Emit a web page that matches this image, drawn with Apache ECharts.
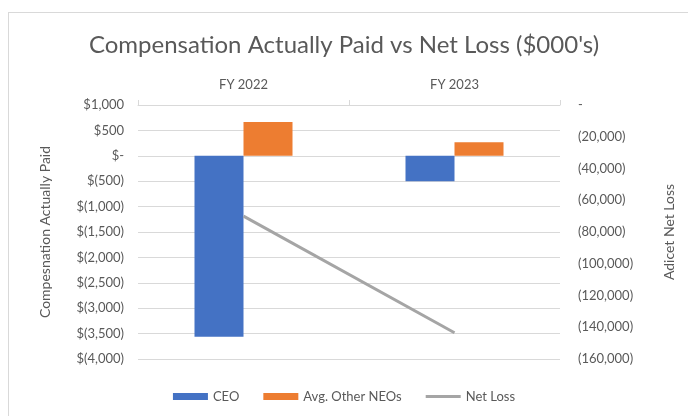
<!DOCTYPE html>
<html>
<head>
<meta charset="utf-8">
<script src="https://cdn.jsdelivr.net/npm/echarts@6/dist/echarts.min.js"></script>
<style>
    html, body { margin: 0; padding: 0; background: #fff; }
    #frame { position: absolute; left: 8px; top: 12px; width: 700px; height: 420px; border-left: 1px solid #d9d9d9; border-top: 1px solid #d9d9d9; }
    #main { position: absolute; left: 0; top: 0; width: 688px; height: 416px; }
</style>
</head>
<body>
<div id="frame"></div>
<div id="main"></div>
<script>
var years = ['FY 2022', 'FY 2023'];
var ceoData = [-3560, -500];
var neoData = [665, 265];
var netLossData = [-70000, -143500];

var leftTicks = { min: -4000, max: 1000, interval: 500 };
var rightTicks = { min: -160000, max: 0, interval: 20000 };

function fmtNum(v) {
    return Math.abs(v).toLocaleString('en-US');
}
function fmtLeft(v) {
    if (v === 0) return '$-';
    if (v < 0) return '$(' + fmtNum(v) + ')';
    return '$' + fmtNum(v);
}
function fmtRight(v) {
    if (v === 0) return '-';
    return '(' + fmtNum(v) + ')';
}

var font = 'Lato, "Open Sans", sans-serif';
var txt = '#595959';
var gridColor = '#d9d9d9';

var chart = echarts.init(document.getElementById('main'), null, { width: 688, height: 416 });
var option = {
    backgroundColor: 'transparent',
    animation: false,
    textStyle: { fontFamily: font },
    title: {
        text: "Compensation Actually Paid vs Net Loss ($000's)",
        left: 'center',
        top: 28,
        textStyle: { fontFamily: font, fontSize: 24, fontWeight: 'normal', color: txt }
    },
    legend: {
        bottom: 8,
        left: 'center',
        itemWidth: 35,
        itemHeight: 7,
        itemGap: 24,
        textStyle: { fontFamily: font, fontSize: 13, color: txt },
        data: [
            { name: 'CEO', icon: 'rect' },
            { name: 'Avg. Other NEOs', icon: 'rect' },
            { name: 'Net Loss', icon: 'path://M0,0H35V3H0Z' }
        ]
    },
    grid: { left: 138, right: 128, top: 105, bottom: 57 },
    xAxis: {
        type: 'category',
        position: 'top',
        data: years,
        axisLine: { onZero: false, lineStyle: { color: gridColor } },
        axisTick: { show: true, length: 5, lineStyle: { color: gridColor } },
        axisLabel: { color: txt, fontSize: 13, margin: 14, fontFamily: font },
        splitLine: { show: false }
    },
    yAxis: [
        {
            type: 'value',
            min: leftTicks.min,
            max: leftTicks.max,
            interval: leftTicks.interval,
            name: 'Compesnation Actually Paid',
            nameLocation: 'middle',
            nameRotate: 90,
            nameGap: 86,
            nameTextStyle: { color: txt, fontSize: 14, fontFamily: font },
            axisLine: { show: false },
            axisTick: { show: false },
            axisLabel: { color: txt, fontSize: 13, margin: 14, formatter: fmtLeft, fontFamily: font },
            splitLine: { lineStyle: { color: gridColor } }
        },
        {
            type: 'value',
            position: 'right',
            min: rightTicks.min,
            max: rightTicks.max,
            interval: rightTicks.interval,
            name: 'Adicet Net Loss',
            nameLocation: 'middle',
            nameRotate: 90,
            nameGap: 102,
            nameTextStyle: { color: txt, fontSize: 14, fontFamily: font },
            axisLine: { show: false },
            axisTick: { show: false },
            axisLabel: { color: txt, fontSize: 13, margin: 18, formatter: fmtRight, fontFamily: font },
            splitLine: { show: false }
        }
    ],
    series: [
        {
            name: 'CEO',
            type: 'bar',
            yAxisIndex: 0,
            barWidth: 49,
            barGap: '0%',
            itemStyle: { color: '#4472C4' },
            data: ceoData
        },
        {
            name: 'Avg. Other NEOs',
            type: 'bar',
            yAxisIndex: 0,
            barWidth: 49,
            barGap: '0%',
            itemStyle: { color: '#ED7D31' },
            data: neoData
        },
        {
            name: 'Net Loss',
            type: 'line',
            yAxisIndex: 1,
            symbol: 'none',
            lineStyle: { color: '#A5A5A5', width: 3 },
            itemStyle: { color: '#A5A5A5' },
            data: netLossData
        }
    ]
};
chart.setOption(option);
</script>
</body>
</html>
